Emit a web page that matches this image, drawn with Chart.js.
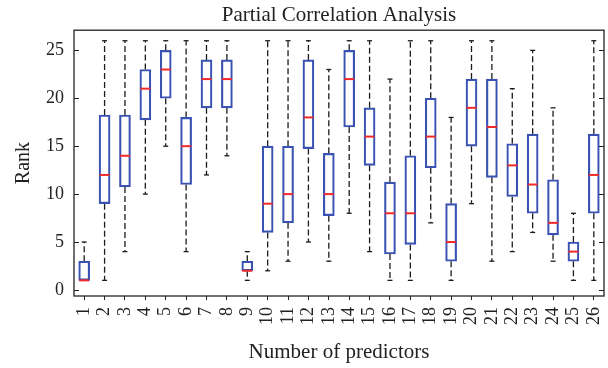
<!DOCTYPE html>
<html>
<head>
    <title>Partial Correlation Analysis</title>
    <script src="https://cdn.jsdelivr.net/npm/chart.js"></script>
    <style type="text/css">
        body { margin: 0; background: #fff; }
        #wrap { width: 608px; height: 368px; }
    </style>
</head>
<body>
    <div id="wrap"><canvas id="rank-chart" width="608" height="368"></canvas></div>

    <script type="text/javascript">
        // Rank distribution per predictor count
        const predictors = ['1','2','3','4','5','6','7','8','9','10','11','12','13','14','15','16','17','18','19','20','21','22','23','24','25','26'];
        const whiskerHigh = [5, 26, 26, 26, 26, 26, 26, 26, 4, 26, 26, 26, 23, 26, 26, 22, 26, 26, 18, 26, 26, 21, 25, 19, 8, 26];
        const upperQuartile = [3, 18.25, 18.25, 23, 25, 18, 24, 24, 3, 15, 15, 24, 14.25, 25, 19, 11.25, 14, 20, 9, 22, 22, 15.25, 16.25, 11.5, 5, 16.25];
        const medians = [1, 12, 14, 21, 23, 15, 22, 22, 2, 9, 10, 18, 10, 22, 16, 8, 8, 16, 5, 19, 17, 13, 11, 7, 4, 12];
        const lowerQuartile = [1, 9, 10.75, 17.75, 20, 11, 19, 19, 2, 6, 7, 14.75, 7.75, 17, 13, 3.75, 4.75, 12.75, 3, 15, 11.75, 9.75, 8, 5.75, 3, 8];
        const whiskerLow = [1, 1, 4, 10, 15, 4, 12, 14, 1, 2, 3, 5, 3, 8, 4, 1, 1, 7, 1, 9, 3, 4, 6, 3, 1, 1];
        const rankTicks = [0, 5, 10, 15, 20, 25];

        const serif = "'Liberation Serif', 'DejaVu Serif', serif";
        const ink = '#222';

        // whiskers, medians and the axes frame drawn around the floating bars
        const boxParts = {
            id: 'boxParts',
            afterLayout(chart) {
                // centre the title over the plot area
                const t = chart.titleBlock;
                if (t) {
                    t.left = chart.chartArea.left;
                    t.right = chart.chartArea.right;
                    t.width = t.right - t.left;
                }
            },
            beforeDatasetsDraw(chart) {
                const { ctx, scales: { x, y } } = chart;
                ctx.save();
                ctx.strokeStyle = '#1c1c1c';
                ctx.lineWidth = 1.3;
                predictors.forEach((p, i) => {
                    const cx = x.getPixelForValue(i);
                    const segs = [[upperQuartile[i], whiskerHigh[i]], [lowerQuartile[i], whiskerLow[i]]];
                    segs.forEach(([from, to]) => {
                        if (from === to) return;
                        ctx.setLineDash([6, 3]);
                        ctx.beginPath();
                        ctx.moveTo(cx, y.getPixelForValue(from));
                        ctx.lineTo(cx, y.getPixelForValue(to));
                        ctx.stroke();
                        ctx.setLineDash([]);
                        ctx.beginPath();
                        ctx.moveTo(cx - 2.5, y.getPixelForValue(to));
                        ctx.lineTo(cx + 2.5, y.getPixelForValue(to));
                        ctx.stroke();
                    });
                });
                ctx.restore();
            },
            afterDatasetsDraw(chart) {
                const { ctx, scales: { x, y } } = chart;
                ctx.save();
                ctx.strokeStyle = '#ee2a2a';
                ctx.lineWidth = 2;
                predictors.forEach((p, i) => {
                    const cx = x.getPixelForValue(i);
                    const my = y.getPixelForValue(medians[i]);
                    ctx.beginPath();
                    ctx.moveTo(cx - 5, my);
                    ctx.lineTo(cx + 5, my);
                    ctx.stroke();
                });
                // frame with inward ticks on both sides
                const a = chart.chartArea;
                ctx.strokeStyle = ink;
                ctx.lineWidth = 1.3;
                ctx.strokeRect(a.left, a.top, a.right - a.left, a.bottom - a.top);
                ctx.lineWidth = 1;
                rankTicks.forEach(v => {
                    const ty = Math.round(y.getPixelForValue(v)) + 0.5;
                    ctx.beginPath();
                    ctx.moveTo(a.left, ty);
                    ctx.lineTo(a.left + 5, ty);
                    ctx.moveTo(a.right, ty);
                    ctx.lineTo(a.right - 5, ty);
                    ctx.stroke();
                });
                ctx.restore();
            }
        };

        new Chart(document.getElementById('rank-chart'), {
            type: 'bar',
            data: {
                labels: predictors,
                datasets: [{
                    data: predictors.map((p, i) => [lowerQuartile[i], upperQuartile[i]]),
                    backgroundColor: 'rgba(255,255,255,0)',
                    borderColor: '#3a52b2',
                    borderWidth: 1.5,
                    borderSkipped: false,
                    barThickness: 11
                }]
            },
            options: {
                responsive: false,
                animation: false,
                layout: { padding: { left: 0, right: 4, top: 0, bottom: 0 } },
                plugins: {
                    legend: { display: false },
                    tooltip: { enabled: false },
                    title: {
                        display: true,
                        text: 'Partial Correlation Analysis',
                        color: ink,
                        font: { family: serif, size: 21, weight: 'normal' },
                        padding: { top: 3, bottom: 2 }
                    }
                },
                scales: {
                    x: {
                        grid: { display: true, drawOnChartArea: false, drawTicks: true, tickLength: 4, offset: false, color: ink },
                        border: { display: false },
                        ticks: { color: ink, font: { family: serif, size: 18 }, autoSkip: false, minRotation: 90, maxRotation: 90, padding: 7 },
                        title: {
                            display: true,
                            text: 'Number of predictors',
                            color: ink,
                            font: { family: serif, size: 21 },
                            padding: { top: 0, bottom: 3 }
                        },
                        afterFit(s) {
                            s.height = 72;
                            s.paddingLeft = 0;
                            s.paddingRight = 0;
                        }
                    },
                    y: {
                        min: -0.63,
                        max: 27.1,
                        grid: { display: false, drawTicks: false },
                        border: { display: false },
                        ticks: { color: ink, font: { family: serif, size: 18 }, padding: 10 },
                        afterBuildTicks(s) { s.ticks = rankTicks.map(v => ({ value: v })); },
                        title: {
                            display: true,
                            text: 'Rank',
                            color: ink,
                            font: { family: serif, size: 20 },
                            padding: { top: 12, bottom: 0 }
                        },
                        afterFit(s) { s.width = 74; }
                    }
                }
            },
            plugins: [boxParts]
        });
    </script>
</body>
</html>
